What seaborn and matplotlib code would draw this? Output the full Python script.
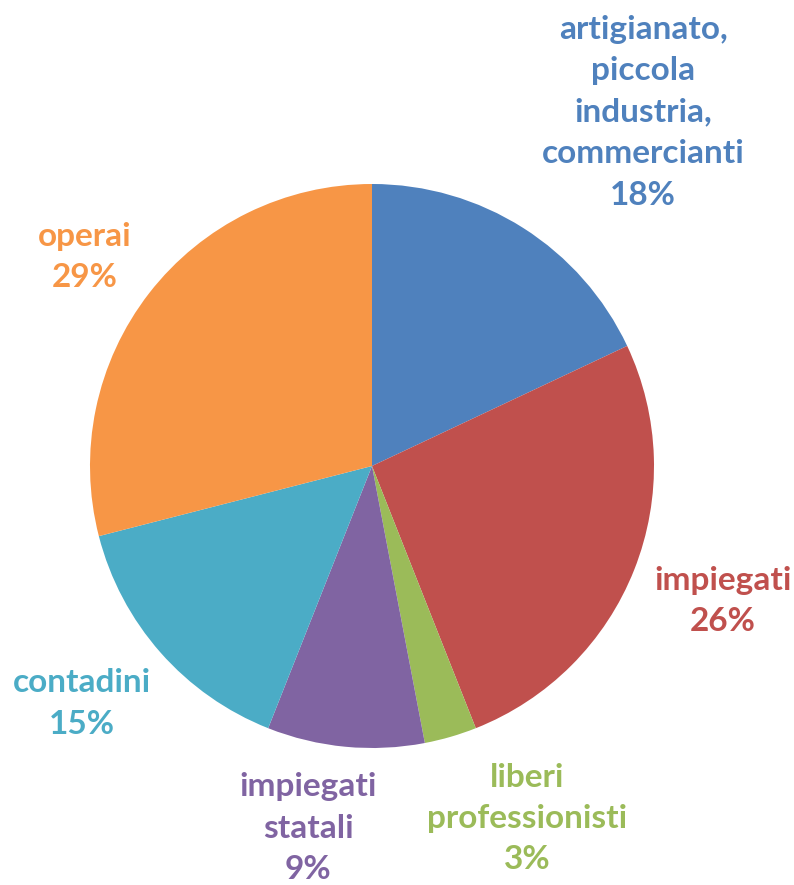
import matplotlib
matplotlib.use("Agg")
import matplotlib.pyplot as plt
import seaborn as sns

# categories, clockwise from the top
categories = ["artigianato,\npiccola\nindustria,\ncommercianti", "impiegati",
              "liberi\nprofessionisti", "impiegati\nstatali", "contadini", "operai"]
shares = [18, 26, 3, 9, 15, 29]
colors = ["#4F81BD", "#C0504D", "#9BBB59", "#8064A2", "#4BACC6", "#F79646"]

# label centres (in pie radius units, from the centre)
label_pos = [(0.961, 1.255), (1.245, -0.479), (0.550, -1.250),
             (-0.227, -1.284), (-1.028, -0.842), (-1.018, 0.741)]

sns.set_theme(style="white")
plt.rcParams['font.family'] = ['Lato', 'DejaVu Sans']

fig = plt.figure(figsize=(7.94, 8.85), dpi=100)
ax = fig.add_axes([0, 0, 1, 1])

ax.pie(shares, colors=colors, startangle=90, counterclock=False,
       radius=1.0, wedgeprops=dict(linewidth=0))

for lab, val, col, (x, y) in zip(categories, shares, colors, label_pos):
    ax.text(x, y, f"{lab}\n{val}%", color=col, ha="center", va="center",
            fontsize=24, fontweight="bold", linespacing=1.52)

ax.set_xlim(-372 / 282, (794 - 372) / 282)
ax.set_ylim(-(885 - 466) / 282, 466 / 282)
ax.set_aspect("equal")
ax.axis("off")

fig.savefig("out.png", dpi=100)
